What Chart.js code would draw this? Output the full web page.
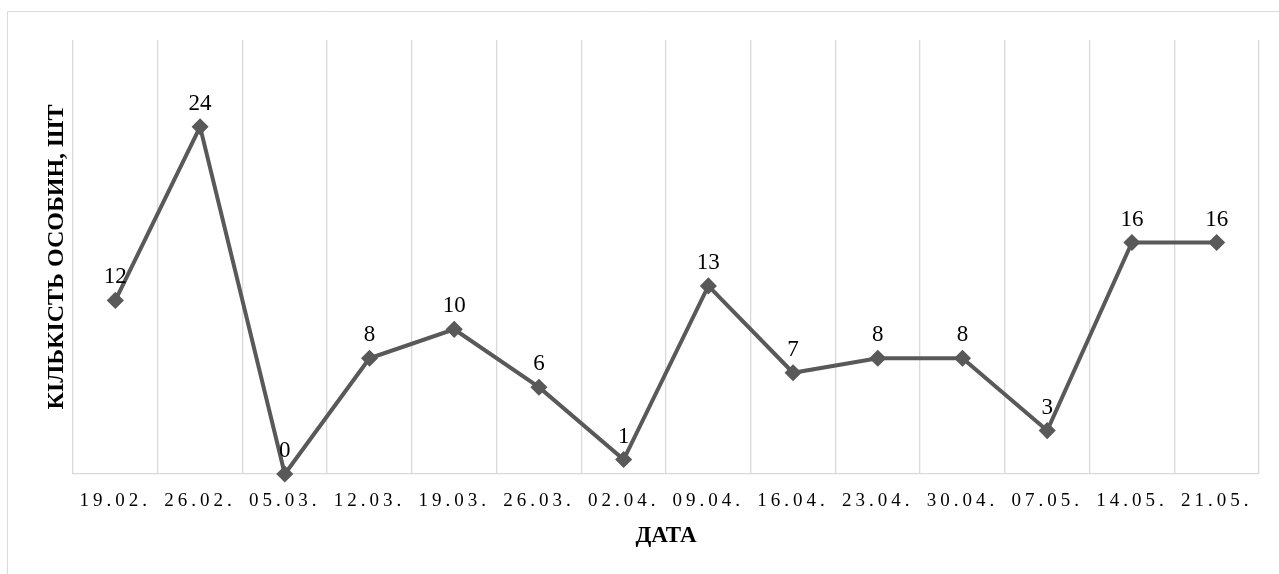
<!DOCTYPE html>
<html>
<head>
<meta charset="utf-8">
<script src="https://cdn.jsdelivr.net/npm/chart.js@4/dist/chart.umd.min.js"></script>
<style>
  html, body { margin: 0; padding: 0; background: #ffffff; }
  #wrap { width: 1279px; height: 574px; }
</style>
</head>
<body>
<div id="wrap"><canvas id="chart" width="1279" height="574"></canvas></div>
<script>
// Weekly observation dates and counted individuals
const dates = ['19.02.', '26.02.', '05.03.', '12.03.', '19.03.', '26.03.', '02.04.',
               '09.04.', '16.04.', '23.04.', '30.04.', '07.05.', '14.05.', '21.05.'];
const counts = [12, 24, 0, 8, 10, 6, 1, 13, 7, 8, 8, 3, 16, 16];
const yTitle = 'КІЛЬКІСТЬ ОСОБИН, ШТ';
const xTitle = 'ДАТА';

const SERIF = '"Liberation Serif", "Times New Roman", serif';
const LINE = '#595959';
const GRID = '#d9d9d9';

// Frame around the chart, value labels above markers, spaced date labels
const decor = {
  id: 'decor',
  beforeDraw(chart) {
    const ctx = chart.ctx;
    ctx.letterSpacing = '0px';
    ctx.save();
    ctx.strokeStyle = GRID;
    ctx.lineWidth = 1;
    ctx.beginPath();
    ctx.moveTo(7.5, chart.height);
    ctx.lineTo(7.5, 11.5);
    ctx.lineTo(chart.width, 11.5);
    ctx.stroke();
    ctx.restore();
  },
  afterDatasetsDraw(chart) {
    const ctx = chart.ctx;
    const meta = chart.getDatasetMeta(0);
    ctx.save();
    ctx.font = '23px ' + SERIF;
    ctx.fillStyle = '#000000';
    ctx.textAlign = 'center';
    ctx.textBaseline = 'alphabetic';
    meta.data.forEach((pt, i) => {
      ctx.fillText(String(counts[i]), pt.x, pt.y - 17);
    });
    ctx.restore();
    // the date labels are drawn after this point (ticks z = 1)
    ctx.letterSpacing = '4px';
  },
  afterDraw(chart) {
    chart.ctx.letterSpacing = '0px';
  }
};

new Chart(document.getElementById('chart'), {
  type: 'line',
  data: {
    labels: dates,
    datasets: [{
      data: counts,
      borderColor: LINE,
      borderWidth: 4,
      backgroundColor: LINE,
      pointStyle: 'rectRot',
      pointRadius: 7.5,
      pointBorderWidth: 1.5,
      pointBorderColor: LINE,
      pointBackgroundColor: LINE,
      tension: 0,
      clip: false
    }]
  },
  options: {
    responsive: false,
    animation: false,
    layout: { padding: { top: 40, right: 20, bottom: 0, left: 0 } },
    plugins: {
      legend: { display: false },
      tooltip: { enabled: false }
    },
    scales: {
      x: {
        offset: true,
        grid: { offset: true, color: GRID, lineWidth: 1.3, drawTicks: false, tickLength: 0 },
        border: { display: true, color: GRID, width: 1.3 },
        ticks: {
          z: 1,
          autoSkip: false,
          maxRotation: 0,
          padding: 16,
          color: '#000000',
          font: { family: SERIF, size: 19 }
        },
        title: {
          display: true,
          text: xTitle,
          color: '#000000',
          font: { family: SERIF, size: 23, weight: 'bold' },
          padding: { top: 0, bottom: 24 }
        },
        afterFit(scale) { scale.height = 100; }
      },
      y: {
        min: 0,
        max: 30,
        grid: { display: false },
        border: { display: false },
        ticks: { display: false },
        title: {
          display: true,
          text: yTitle,
          color: '#000000',
          font: { family: SERIF, size: 24, weight: 'bold' },
          padding: { top: 42, bottom: 0 }
        },
        afterFit(scale) { scale.width = 73; }
      }
    }
  },
  plugins: [decor]
});
</script>
</body>
</html>
